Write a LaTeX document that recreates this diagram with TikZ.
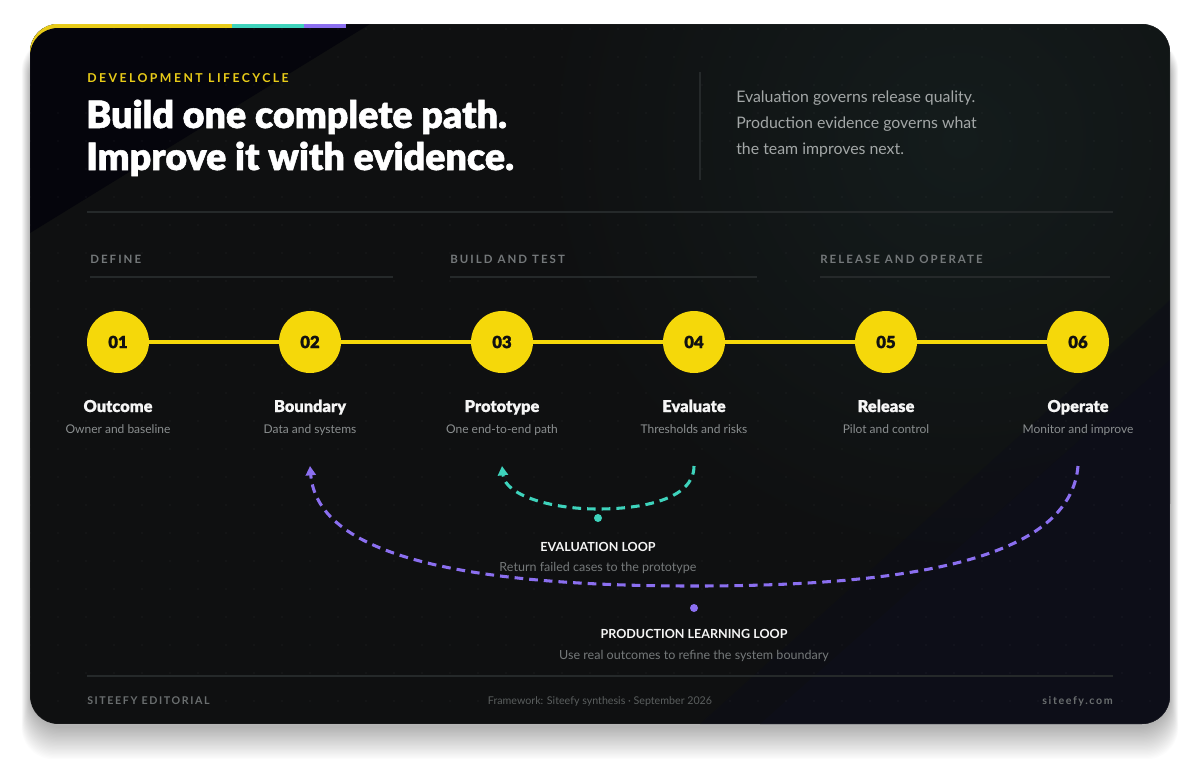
\documentclass[tikz,border=0pt]{standalone}
\usepackage{fontspec}
\setmainfont{Lato}
\newfontfamily\heavy{Lato Black}[FakeBold=1.4]
\newfontfamily\heavysm{Lato Black}[FakeBold=0.6]
\newfontfamily\spaced{Lato}[LetterSpace=20]
\newfontfamily\spacedsm{Lato}[LetterSpace=18]
\newfontfamily\spacedft{Lato}[LetterSpace=15]
\usetikzlibrary{arrows.meta}
\definecolor{yel}{HTML}{F5D80A}
\definecolor{eyel}{HTML}{E8CB18}
\definecolor{tealc}{HTML}{3ED3BC}
\definecolor{purp}{HTML}{8B6FF0}
\definecolor{bgbase}{HTML}{0F1011}
\definecolor{navy}{HTML}{05050C}
\definecolor{glow}{HTML}{141C1C}
\definecolor{bluish}{HTML}{0D0E18}
\definecolor{txtw}{HTML}{F5F5F5}
\definecolor{txtr}{HTML}{A3A7A7}
\definecolor{txts}{HTML}{8A8E8F}
\definecolor{txtp}{HTML}{74787A}
\definecolor{divc}{HTML}{25292A}
\definecolor{footc}{HTML}{6A6E6F}
\definecolor{numc}{HTML}{111111}
\begin{document}
\begin{tikzpicture}[x=0.75pt,y=-0.75pt,
  stepcirc/.style={circle,fill=yel,minimum size=46.5pt,inner sep=0pt,text=numc,font=\heavy\fontsize{12.5}{14}\selectfont},
  yline/.style={draw=yel,line width=3pt},
  steptitle/.style={anchor=base,inner sep=0pt,text=txtw,font=\heavysm\fontsize{12.3}{14}\selectfont},
  stepsub/.style={anchor=base,inner sep=0pt,text=txts,font=\fontsize{9}{11}\selectfont},
  phase/.style={anchor=base west,inner sep=0pt,text=txtp,font=\spacedsm\bfseries\fontsize{8.6}{10}\selectfont},
  phaseline/.style={draw=divc,line width=1pt},
  divider/.style={draw=divc,line width=1.2pt},
  looptitle/.style={anchor=base,inner sep=0pt,text=txtw,font=\bfseries\fontsize{9.4}{11}\selectfont},
  loopsub/.style={anchor=base,inner sep=0pt,text=txts!85!black,font=\fontsize{9.4}{11}\selectfont},
  loopdot/.style={circle,inner sep=0pt,minimum size=6pt},
  looppath/.style={line width=2.3pt,dash pattern=on 6.5pt off 4.5pt},
  righttxt/.style={anchor=base west,inner sep=0pt,text=txtr,font=\fontsize{11.9}{13}\selectfont},
  foot/.style={inner sep=0pt,text=footc,font=\spacedft\bfseries\fontsize{8}{10}\selectfont}
]
\useasboundingbox (0,0) rectangle (1200,760);
\fill[white] (0,0) rectangle (1200,760);
% shadow
\foreach \i in {0,...,24}{
  \fill[black,opacity=0.012,rounded corners=24pt] ({30-0.35*\i},{46-0.3*\i}) rectangle ({1170+0.35*\i},{728+1.3*\i});
}
% card
\begin{scope}
\clip[rounded corners=21pt] (30,24) rectangle (1170,724);
\fill[bgbase] (30,24) rectangle (1170,724);
\shade[inner color=glow,outer color=bgbase] (960,140) circle (420);
\fill[bluish,opacity=0.5] (700,724) -- (1170,300) -- (1170,724) -- cycle;
\fill[bluish] (760,724) -- (1170,360) -- (1170,724) -- cycle;
\fill[navy] (30,24) -- (370,24) -- (30,233) -- cycle;
% dot grid
\foreach \gx in {0,...,40}{
  \foreach \gy in {0,...,25}{
    \fill[white,opacity=0.05] ({30+28*\gx},{29+28*\gy}) circle (0.8);
  }
}
% top bar
\fill[eyel] (30,24) rectangle (70,70);
\fill[navy,rounded corners=21pt] (30,28) rectangle (120,100);
\fill[eyel] (30,24) rectangle (232,28);
\fill[tealc] (232,24) rectangle (304,28);
\fill[purp] (304,24) rectangle (346,28);
\end{scope}
\draw[white,opacity=0.08,line width=0.6pt,rounded corners=21pt] (30,24) rectangle (1170,724);

% header
\node[anchor=base west,inner sep=0pt,text=eyel,font=\spaced\bfseries\fontsize{9.2}{11}\selectfont] (eyebrow) at (87,82) {DEVELOPMENT LIFECYCLE};
\node[anchor=base west,inner sep=0pt,text=white,font=\heavy\fontsize{28.2}{31}\selectfont] (title1) at (86,128) {Build one complete path.};
\node[anchor=base west,inner sep=0pt,text=white,font=\heavy\fontsize{28.2}{31}\selectfont] (title2) at (86,170) {Improve it with evidence.};
\draw[divc,line width=1pt] (700,72) -- (700,180);
\node[righttxt] (r1) at (736,102) {Evaluation governs release quality.};
\node[righttxt] (r2) at (736,128) {Production evidence governs what};
\node[righttxt] (r3) at (736,154) {the team improves next.};
\draw[divider] (87,212) -- (1113,212);

% phases
\node[phase] (p1) at (90,263) {DEFINE};
\node[phase] (p2) at (450,263) {BUILD AND TEST};
\node[phase] (p3) at (820,263) {RELEASE AND OPERATE};
\draw[phaseline] (90,277) -- (393,277);
\draw[phaseline] (450,277) -- (757,277);
\draw[phaseline] (820,277) -- (1110,277);

% steps
\node[stepcirc] (s1) at (118,342) {01};
\node[stepcirc] (s2) at (310,342) {02};
\node[stepcirc] (s3) at (502,342) {03};
\node[stepcirc] (s4) at (694,342) {04};
\node[stepcirc] (s5) at (886,342) {05};
\node[stepcirc] (s6) at (1078,342) {06};
\draw[yline] (s1) -- (s2);
\draw[yline] (s2) -- (s3);
\draw[yline] (s3) -- (s4);
\draw[yline] (s4) -- (s5);
\draw[yline] (s5) -- (s6);

\node[steptitle] (t1) at (118,412) {Outcome};
\node[steptitle] (t2) at (310,412) {Boundary};
\node[steptitle] (t3) at (502,412) {Prototype};
\node[steptitle] (t4) at (694,412) {Evaluate};
\node[steptitle] (t5) at (886,412) {Release};
\node[steptitle] (t6) at (1078,412) {Operate};
\node[stepsub] (d1) at (118,433) {Owner and baseline};
\node[stepsub] (d2) at (310,433) {Data and systems};
\node[stepsub] (d3) at (502,433) {One end-to-end path};
\node[stepsub] (d4) at (694,433) {Thresholds and risks};
\node[stepsub] (d5) at (886,433) {Pilot and control};
\node[stepsub] (d6) at (1078,433) {Monitor and improve};

% loops
\coordinate (e4) at (694,466);
\coordinate (e3) at (502,466);
\coordinate (o6) at (1078,466);
\coordinate (o2) at (310,466);
\draw[looppath,draw=tealc,-{Triangle[length=7pt,width=7.5pt,fill=tealc]}] (e4) .. controls (694,500) and (640,509) .. (598,509) .. controls (550,509) and (505,495) .. (e3);
\draw[looppath,draw=purp,-{Triangle[length=7pt,width=7.5pt,fill=purp]}] (o6) .. controls (1070,560) and (908,586) .. (694,586) .. controls (480,586) and (318,560) .. (o2);
\node[loopdot,fill=tealc] (edot) at (598,518) {};
\node[loopdot,fill=purp] (pdot) at (694,608) {};
\node[looptitle] (el) at (598,551) {EVALUATION LOOP};
\node[loopsub] (es) at (598,571) {Return failed cases to the prototype};
\node[looptitle] (pl) at (694,638) {PRODUCTION LEARNING LOOP};
\node[loopsub] (ps) at (694,659) {Use real outcomes to refine the system boundary};

% footer
\draw[divider] (87,676) -- (1113,676);
\node[foot,anchor=base west] (f1) at (87,704) {SITEEFY EDITORIAL};
\node[inner sep=0pt,anchor=base,text=footc!85!black,font=\fontsize{8}{10}\selectfont] (f2) at (600,704) {Framework: Siteefy synthesis · September 2026};
\node[foot,anchor=base east] (f3) at (1113,704) {siteefy.com};
\end{tikzpicture}
\end{document}
